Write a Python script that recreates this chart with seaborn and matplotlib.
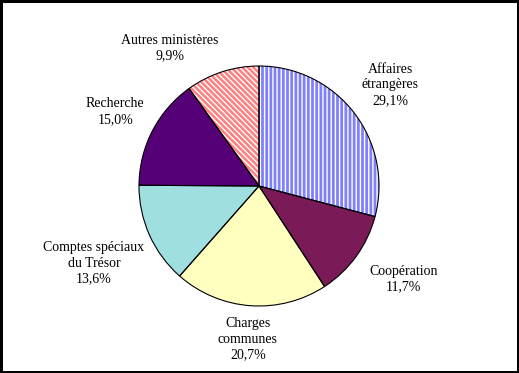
import matplotlib
matplotlib.use("Agg")
import matplotlib.pyplot as plt
import seaborn as sns
import numpy as np

sns.set_theme(style="white")
plt.rcParams['font.family'] = ['Liberation Serif', 'DejaVu Serif']
plt.rcParams['hatch.linewidth'] = 1.0

# donnees
categories = ["Affaires\nétrangères", "Coopération", "Charges\ncommunes",
              "Comptes spéciaux\ndu Trésor", "Recherche", "Autres ministères"]
parts = [29.1, 11.7, 20.7, 13.6, 15.0, 9.9]
etiquettes = ["29,1%", "11,7%", "20,7%", "13,6%", "15,0%", "9,9%"]

couleurs = ["#8080FF", "#7A1A57", "#FFFFC0", "#A0DFDF", "#560078", "#FF8080"]
hachures = ["||||", None, None, None, None, "\\\\\\\\\\\\"]
# distance et decalage angulaire des etiquettes (style Excel)
dist_label = [1.38, 1.43, 1.28, 1.52, 1.35, 1.37]
decal_angle = [0, 3, 0, 1, 0, 15]

fig = plt.figure(figsize=(5.19, 3.73), dpi=100)
ax = fig.add_axes([0, 0, 1, 1])

# remplissage + hachures (blanches)
wedges, _ = ax.pie(parts, colors=couleurs, startangle=90, counterclock=False,
                   radius=1, wedgeprops=dict(edgecolor="white", linewidth=0))
for w, h in zip(wedges, hachures):
    if h:
        w.set_hatch(h)
        w.set_edgecolor("white")
# contours noirs
contours, _ = ax.pie(parts, startangle=90, counterclock=False, radius=1,
                     wedgeprops=dict(facecolor="none", edgecolor="black", linewidth=0.8))

for w, cat, lab, d, da in zip(wedges, categories, etiquettes, dist_label, decal_angle):
    ang = np.deg2rad((w.theta1 + w.theta2) / 2 + da)
    ax.text(d * np.cos(ang), d * np.sin(ang), cat + "\n" + lab, ha="center", va="center",
            fontsize=10, linespacing=1.25, color="black")

ax.set_xlim(-259 / 120, 260 / 120)
ax.set_ylim(-(373 - 186) / 120, 186 / 120)
ax.set_aspect("auto")
ax.axis("off")

fig.patch.set_edgecolor("black")
fig.patch.set_linewidth(2.5)
fig.savefig("out.png", dpi=100, edgecolor=fig.get_edgecolor())
